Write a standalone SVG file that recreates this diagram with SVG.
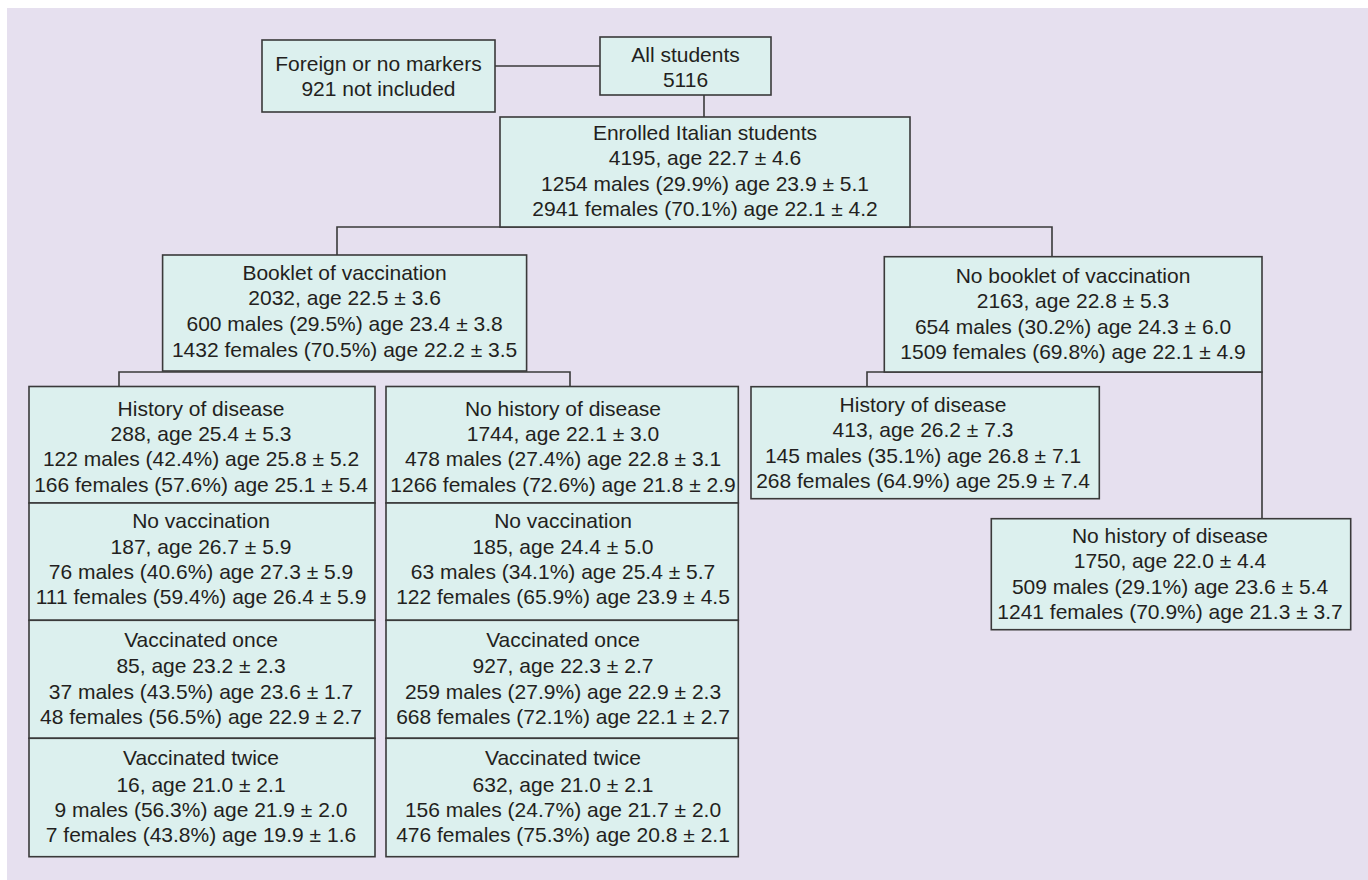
<svg xmlns="http://www.w3.org/2000/svg" width="1368" height="880" viewBox="0 0 1368 880">
<style>
.box{fill:#dcf0ee;stroke:#3a3a3a;stroke-width:1.6}
.t{font-family:"Liberation Sans",Arial,sans-serif;font-size:21px;fill:#231f20;text-anchor:middle}
.c{fill:none;stroke:#3a3a3a;stroke-width:1.6}
</style>
<rect x="0" y="0" width="1368" height="880" fill="#ffffff"/>
<rect x="7" y="8" width="1361" height="872" fill="#e6e0ef"/>
<g id="connectors">
<path class="c" d="M495,66 H600"/>
<path class="c" d="M704,95 V117"/>
<path class="c" d="M337,255 V227 H1052 V257"/>
<path class="c" d="M119,386 V372 H570 V386"/>
<path class="c" d="M867,387 V372 H1262 V519"/>
</g>
<g id="foreign">
<rect class="box" x="262" y="40" width="233" height="72"/>
<text class="t" x="378.5" y="70.7">Foreign or no markers</text>
<text class="t" x="378.5" y="95.7">921 not included</text>
</g>
<g id="all">
<rect class="box" x="600" y="37" width="171" height="58"/>
<text class="t" x="685.5" y="61.7">All students</text>
<text class="t" x="685.5" y="87.3">5116</text>
</g>
<g id="enrolled">
<rect class="box" x="500" y="117" width="410" height="110"/>
<text class="t" x="705" y="140">Enrolled Italian students</text>
<text class="t" x="705" y="165">4195, age 22.7 ± 4.6</text>
<text class="t" x="705" y="190.7">1254 males (29.9%) age 23.9 ± 5.1</text>
<text class="t" x="705" y="216">2941 females (70.1%) age 22.1 ± 4.2</text>
</g>
<g id="booklet">
<rect class="box" x="162.6" y="255" width="364" height="116"/>
<text class="t" x="344.6" y="280">Booklet of vaccination</text>
<text class="t" x="344.6" y="305">2032, age 22.5 ± 3.6</text>
<text class="t" x="344.6" y="330.7">600 males (29.5%) age 23.4 ± 3.8</text>
<text class="t" x="344.6" y="356.7">1432 females (70.5%) age 22.2 ± 3.5</text>
</g>
<g id="nobooklet">
<rect class="box" x="884.3" y="256.7" width="377.7" height="115.3"/>
<text class="t" x="1073" y="283.3">No booklet of vaccination</text>
<text class="t" x="1073" y="308.3">2163, age 22.8 ± 5.3</text>
<text class="t" x="1073" y="334">654 males (30.2%) age 24.3 ± 6.0</text>
<text class="t" x="1073" y="359.3">1509 females (69.8%) age 22.1 ± 4.9</text>
</g>
<g id="l-history">
<rect class="box" x="29" y="386.5" width="346" height="116.5"/>
<text class="t" x="201" y="415.7">History of disease</text>
<text class="t" x="201" y="441">288, age 25.4 ± 5.3</text>
<text class="t" x="201" y="466">122 males (42.4%) age 25.8 ± 5.2</text>
<text class="t" x="201" y="491.7">166 females (57.6%) age 25.1 ± 5.4</text>
</g>
<g id="l-novacc">
<rect class="box" x="29" y="503" width="346" height="117.3"/>
<text class="t" x="201" y="528.3">No vaccination</text>
<text class="t" x="201" y="554">187, age 26.7 ± 5.9</text>
<text class="t" x="201" y="578.7">76 males (40.6%) age 27.3 ± 5.9</text>
<text class="t" x="201" y="604.3">111 females (59.4%) age 26.4 ± 5.9</text>
</g>
<g id="l-once">
<rect class="box" x="29" y="620.3" width="346" height="118"/>
<text class="t" x="201" y="647.3">Vaccinated once</text>
<text class="t" x="201" y="673.3">85, age 23.2 ± 2.3</text>
<text class="t" x="201" y="699.3">37 males (43.5%) age 23.6 ± 1.7</text>
<text class="t" x="201" y="724.3">48 females (56.5%) age 22.9 ± 2.7</text>
</g>
<g id="l-twice">
<rect class="box" x="29" y="738.3" width="346" height="118.4"/>
<text class="t" x="201" y="765">Vaccinated twice</text>
<text class="t" x="201" y="791.7">16, age 21.0 ± 2.1</text>
<text class="t" x="201" y="816.7">9 males (56.3%) age 21.9 ± 2.0</text>
<text class="t" x="201" y="842.3">7 females (43.8%) age 19.9 ± 1.6</text>
</g>
<g id="r-nohistory">
<rect class="box" x="386" y="386.5" width="352.3" height="116.5"/>
<text class="t" x="563" y="415.7">No history of disease</text>
<text class="t" x="563" y="441">1744, age 22.1 ± 3.0</text>
<text class="t" x="563" y="466">478 males (27.4%) age 22.8 ± 3.1</text>
<text class="t" x="563" y="491.7">1266 females (72.6%) age 21.8 ± 2.9</text>
</g>
<g id="r-novacc">
<rect class="box" x="386" y="503" width="352.3" height="117.3"/>
<text class="t" x="563" y="528.3">No vaccination</text>
<text class="t" x="563" y="554">185, age 24.4 ± 5.0</text>
<text class="t" x="563" y="578.7">63 males (34.1%) age 25.4 ± 5.7</text>
<text class="t" x="563" y="604.3">122 females (65.9%) age 23.9 ± 4.5</text>
</g>
<g id="r-once">
<rect class="box" x="386" y="620.3" width="352.3" height="118"/>
<text class="t" x="563" y="647.3">Vaccinated once</text>
<text class="t" x="563" y="673.3">927, age 22.3 ± 2.7</text>
<text class="t" x="563" y="699.3">259 males (27.9%) age 22.9 ± 2.3</text>
<text class="t" x="563" y="724.3">668 females (72.1%) age 22.1 ± 2.7</text>
</g>
<g id="r-twice">
<rect class="box" x="386" y="738.3" width="352.3" height="118.4"/>
<text class="t" x="563" y="765">Vaccinated twice</text>
<text class="t" x="563" y="791.7">632, age 21.0 ± 2.1</text>
<text class="t" x="563" y="816.7">156 males (24.7%) age 21.7 ± 2.0</text>
<text class="t" x="563" y="842.3">476 females (75.3%) age 20.8 ± 2.1</text>
</g>
<g id="nb-history">
<rect class="box" x="751" y="386.7" width="348.3" height="112"/>
<text class="t" x="923" y="411.7">History of disease</text>
<text class="t" x="923" y="436.7">413, age 26.2 ± 7.3</text>
<text class="t" x="923" y="462.7">145 males (35.1%) age 26.8 ± 7.1</text>
<text class="t" x="923" y="488.3">268 females (64.9%) age 25.9 ± 7.4</text>
</g>
<g id="nb-nohistory">
<rect class="box" x="991.3" y="518.7" width="359.4" height="111"/>
<text class="t" x="1170" y="542.7">No history of disease</text>
<text class="t" x="1170" y="568.3">1750, age 22.0 ± 4.4</text>
<text class="t" x="1170" y="594">509 males (29.1%) age 23.6 ± 5.4</text>
<text class="t" x="1170" y="619.3">1241 females (70.9%) age 21.3 ± 3.7</text>
</g>
</svg>
